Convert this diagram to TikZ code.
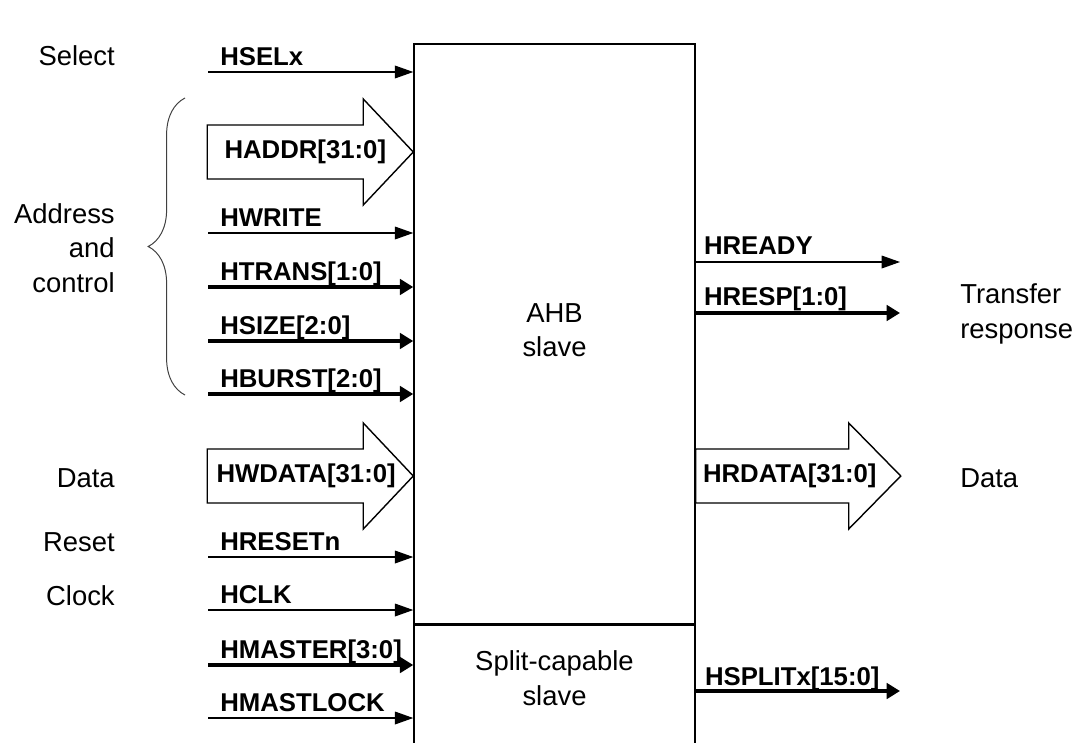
\documentclass[tikz,border=0pt]{standalone}
\usepackage{fontspec}
\setmainfont{Liberation Sans}
\usepackage{tikz}
\usetikzlibrary{arrows.meta,positioning,calc,decorations.pathreplacing}

\begin{document}
\begin{tikzpicture}[
    x=0.025cm, y=-0.025cm,
    font=\fontsize{19.5}{24.5}\selectfont,
    blk/.style={draw, line width=1pt, minimum width=7.025cm, inner sep=0pt},
    sig/.style={line width=0.9pt, -{Triangle[length=13pt,width=9pt]}},
    thk/.style={line width=3.5pt, -{Triangle[length=9.5pt,width=11pt]}},
    bus/.style={draw, line width=1pt, fill=white},
    sl/.style={font=\fontsize{18.3}{22}\selectfont\bfseries, inner sep=0pt, anchor=base west},
    bl/.style={font=\fontsize{18.3}{22}\selectfont\bfseries, inner sep=0pt, anchor=west},
    grp/.style={inner sep=0pt, align=right, anchor=base east},
    ]
\useasboundingbox (0,0) rectangle (1083,742);
\clip (0,0) rectangle (1083,742);

% slave block
\node[blk, minimum height=14.5cm] (ahb) at (554.5,334) {};
\node[blk, minimum height=3.4cm, below=0pt of ahb] (split) {};
\node[align=center, inner sep=0pt] (ahbt) at (554.5,330) {AHB\\slave};
\node[align=center, inner sep=0pt] (splitt) at (554.5,678) {Split-capable\\slave};

% inputs
\coordinate (hsel)   at (208,72);
\coordinate (hwrite) at (208,233);
\coordinate (htrans) at (208,287);
\coordinate (hsize)  at (208,341);
\coordinate (hburst) at (208,394);
\coordinate (hreset) at (208,557);
\coordinate (hclk)   at (208,610);
\coordinate (hmastr) at (208,665);
\coordinate (hmlock) at (208,718);
\draw[sig] (hsel)   -- (hsel -| ahb.west);
\draw[sig] (hwrite) -- (hwrite -| ahb.west);
\draw[thk] (htrans) -- (htrans -| ahb.west);
\draw[thk] (hsize)  -- (hsize -| ahb.west);
\draw[thk] (hburst) -- (hburst -| ahb.west);
\draw[sig] (hreset) -- (hreset -| ahb.west);
\draw[sig] (hclk)   -- (hclk -| ahb.west);
\draw[thk] (hmastr) -- (hmastr -| split.west);
\draw[sig] (hmlock) -- (hmlock -| split.west);
\node[sl] (hsell)   at ($(hsel)+(12,-7)$)   {HSELx};
\node[sl] (hwritel) at ($(hwrite)+(12,-7)$) {HWRITE};
\node[sl] (htransl) at ($(htrans)+(12,-7)$) {HTRANS[1:0]};
\node[sl] (hsizel)  at ($(hsize)+(12,-7)$)  {HSIZE[2:0]};
\node[sl] (hburstl) at ($(hburst)+(12,-7)$) {HBURST[2:0]};
\node[sl] (hresetl) at ($(hreset)+(12,-7)$) {HRESETn};
\node[sl] (hclkl)   at ($(hclk)+(12,-7)$)   {HCLK};
\node[sl] (hmastrl) at ($(hmastr)+(12,-7)$) {HMASTER[3:0]};
\node[sl] (hmlockl) at ($(hmlock)+(12,-7)$) {HMASTLOCK};

% bus inputs
\coordinate (haddr)  at (ahb.west |- 0,152);
\coordinate (hwdata) at (ahb.west |- 0,476);
\path[bus] (haddr) -- ++(-50,-53) -- ++(0,26) -- ++(-156,0) -- ++(0,54)
  -- ++(156,0) -- ++(0,26) -- cycle;
\path[bus] (hwdata) -- ++(-50,-53) -- ++(0,26) -- ++(-156,0) -- ++(0,54)
  -- ++(156,0) -- ++(0,26) -- cycle;
\node[bl] (haddrl)  at ($(haddr)+(-189,0)$)  {HADDR[31:0]};
\node[bl] (hwdatal) at ($(hwdata)+(-197,0)$) {HWDATA[31:0]};

% outputs
\coordinate (hready) at (900,262);
\coordinate (hresp)  at (900,313);
\coordinate (hsplit) at (900,691);
\draw[sig] (hready -| ahb.east) -- (hready);
\draw[thk] (hresp -| ahb.east)  -- (hresp);
\draw[thk] (hsplit -| split.east) -- (hsplit);
\node[sl] (hreadyl) at ($(hready -| ahb.east)+(8,-8)$)  {HREADY};
\node[sl] (hrespl)  at ($(hresp -| ahb.east)+(8,-8)$)   {HRESP[1:0]};
\node[sl] (hsplitl) at ($(hsplit -| split.east)+(9,-6)$) {HSPLITx[15:0]};

\coordinate (hrdata) at (ahb.east |- 0,476);
\path[bus] (hrdata) -- ++(0,-27) -- ++(153,0) -- ++(0,-26) -- ++(52,53)
  -- ++(-52,53) -- ++(0,-26) -- ++(-153,0) -- cycle;
\node[bl] (hrdatal) at ($(hrdata)+(7,0)$) {HRDATA[31:0]};

% group labels
\coordinate (brb) at (185,395);
\coordinate (brt) at (185,98);
\draw[decorate, decoration={brace, amplitude=0.92cm}, line width=0.7pt, black!75] (brb) -- (brt);
\node[grp] (sel)   at (115,65)  {Select};
\node[inner sep=0pt, align=right, anchor=east] (adc) at (115,248) {Address\\and\\control};
\node[grp] (dat)   at (115,487) {Data};
\node[grp] (rst)   at (115,551) {Reset};
\node[grp] (clk)   at (115,605) {Clock};
\node[inner sep=0pt, align=left, anchor=west] (tresp) at (960,314) {Transfer\\response};
\node[inner sep=0pt, anchor=base west] (rdat) at (960,487) {Data};
\end{tikzpicture}
\end{document}
